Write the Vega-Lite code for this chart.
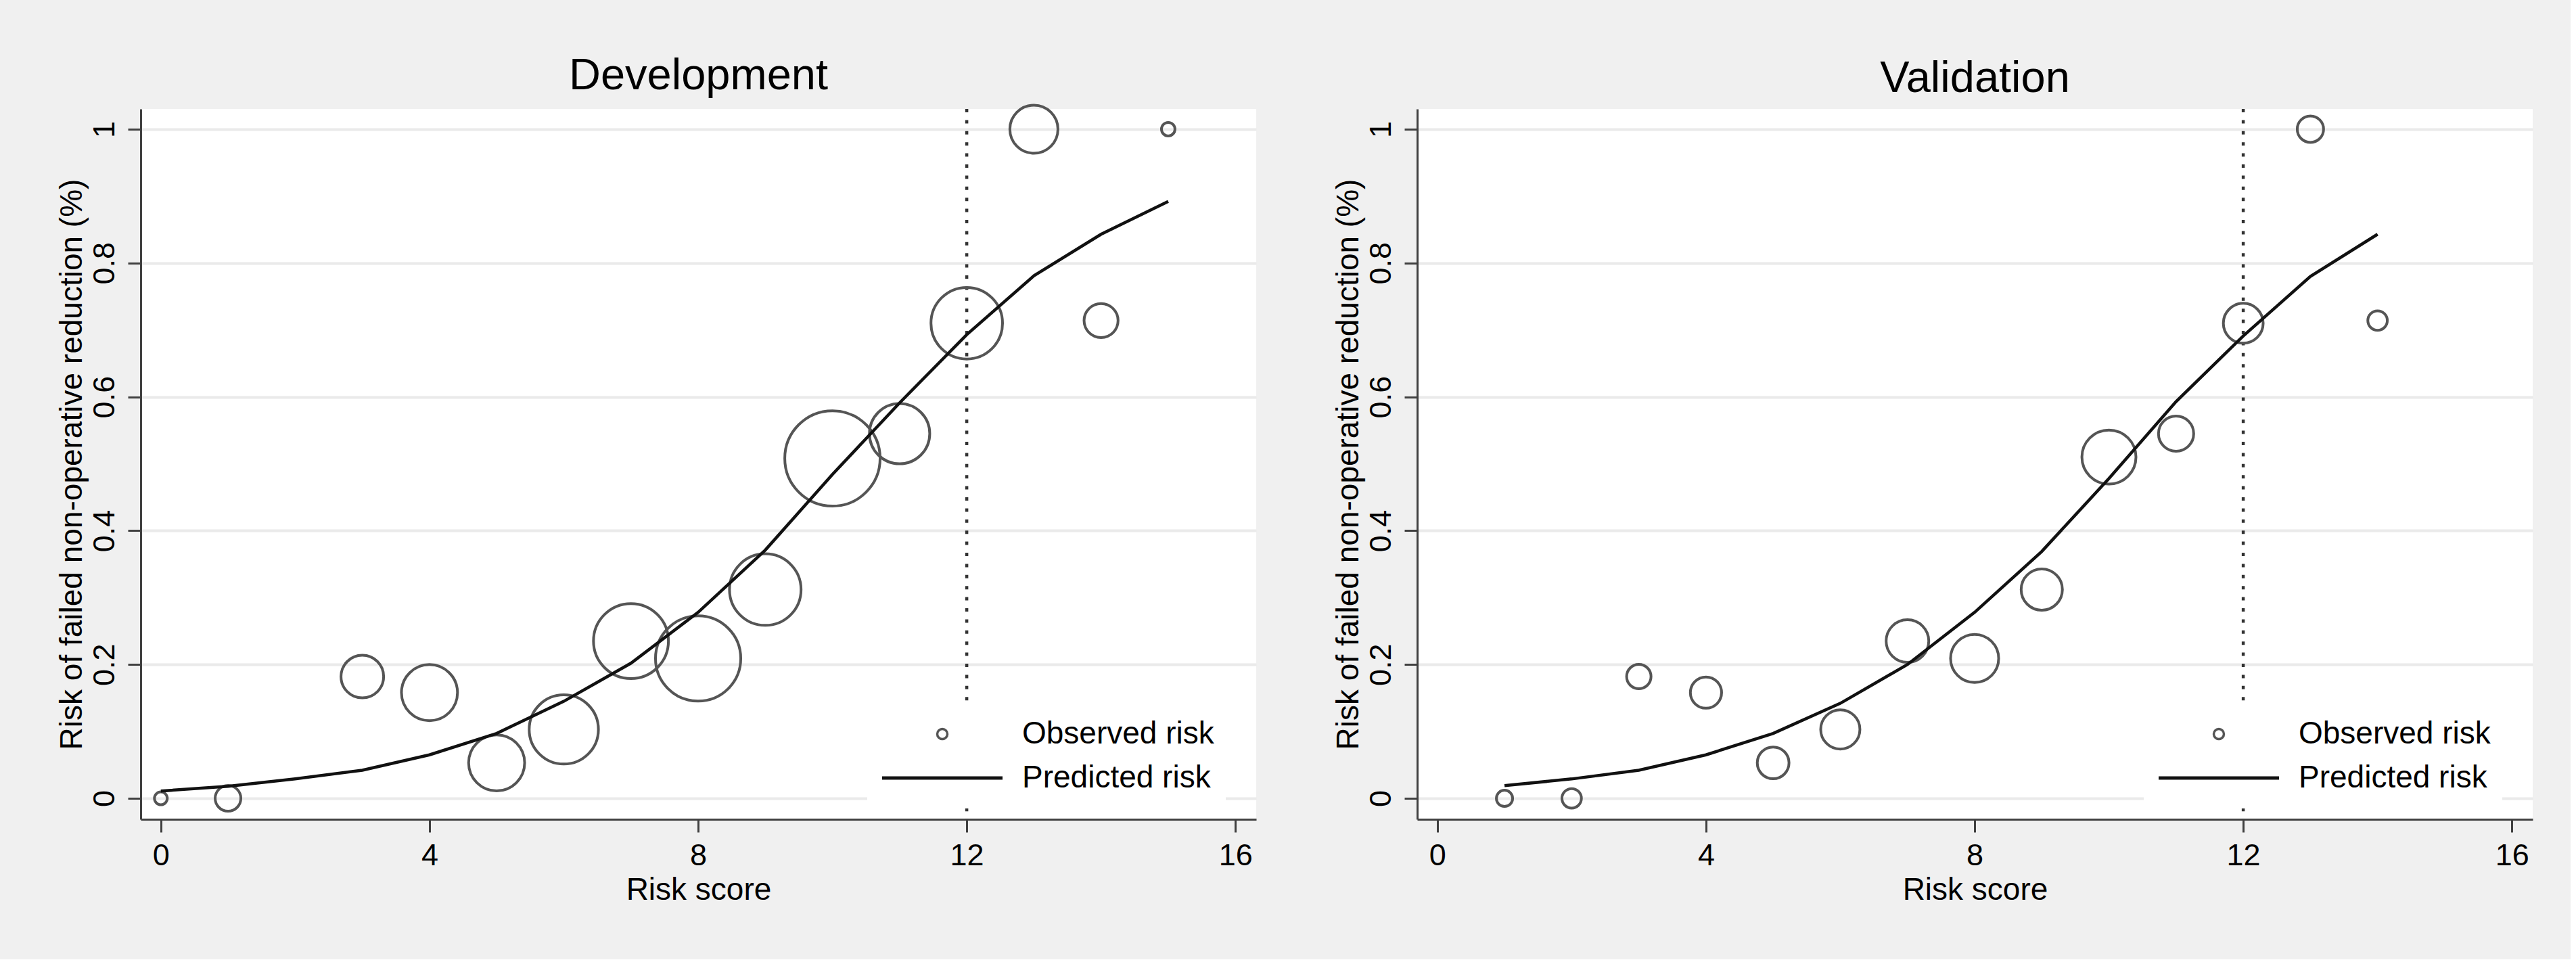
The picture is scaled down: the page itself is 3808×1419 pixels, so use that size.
{
  "$schema": "https://vega.github.io/schema/vega-lite/v6.json",
  "background": "#f0f0f0",
  "padding": {"left": 82, "top": 79, "right": 56, "bottom": 80},
  "datasets": {
    "dev_obs": [
      {"score": 0, "risk": 0.0, "n": 1},
      {"score": 1, "risk": 0.0, "n": 4},
      {"score": 3, "risk": 0.182, "n": 11},
      {"score": 4, "risk": 0.158, "n": 19},
      {"score": 5, "risk": 0.053, "n": 19},
      {"score": 6, "risk": 0.103, "n": 29},
      {"score": 7, "risk": 0.235, "n": 34},
      {"score": 8, "risk": 0.209, "n": 44},
      {"score": 9, "risk": 0.312, "n": 31},
      {"score": 10, "risk": 0.508, "n": 55},
      {"score": 11, "risk": 0.545, "n": 22},
      {"score": 12, "risk": 0.71, "n": 31},
      {"score": 13, "risk": 1.0, "n": 14},
      {"score": 14, "risk": 0.714, "n": 7},
      {"score": 15, "risk": 1.0, "n": 1.1}
    ],
    "dev_pred": [
      {"score": 0, "risk": 0.011},
      {"score": 1, "risk": 0.018},
      {"score": 2, "risk": 0.029},
      {"score": 3, "risk": 0.042},
      {"score": 4, "risk": 0.065},
      {"score": 5, "risk": 0.097},
      {"score": 6, "risk": 0.145},
      {"score": 7, "risk": 0.202},
      {"score": 8, "risk": 0.278},
      {"score": 9, "risk": 0.371},
      {"score": 10, "risk": 0.484},
      {"score": 11, "risk": 0.591},
      {"score": 12, "risk": 0.693},
      {"score": 13, "risk": 0.781},
      {"score": 14, "risk": 0.843},
      {"score": 15, "risk": 0.892}
    ],
    "val_obs": [
      {"score": 1, "risk": 0.0, "n": 1.6},
      {"score": 2, "risk": 0.0, "n": 2.3},
      {"score": 3, "risk": 0.182, "n": 3.6},
      {"score": 4, "risk": 0.158, "n": 5.9},
      {"score": 5, "risk": 0.053, "n": 6.1},
      {"score": 6, "risk": 0.103, "n": 9.3},
      {"score": 7, "risk": 0.235, "n": 11},
      {"score": 8, "risk": 0.209, "n": 14},
      {"score": 9, "risk": 0.312, "n": 10.3},
      {"score": 10, "risk": 0.51, "n": 17.7},
      {"score": 11, "risk": 0.545, "n": 7.5},
      {"score": 12, "risk": 0.71, "n": 9.6},
      {"score": 13, "risk": 1.0, "n": 4.2},
      {"score": 14, "risk": 0.714, "n": 2.3}
    ],
    "val_pred": [
      {"score": 1, "risk": 0.019},
      {"score": 2, "risk": 0.029},
      {"score": 3, "risk": 0.042},
      {"score": 4, "risk": 0.065},
      {"score": 5, "risk": 0.097},
      {"score": 6, "risk": 0.142},
      {"score": 7, "risk": 0.2},
      {"score": 8, "risk": 0.278},
      {"score": 9, "risk": 0.369},
      {"score": 10, "risk": 0.478},
      {"score": 11, "risk": 0.593},
      {"score": 12, "risk": 0.691},
      {"score": 13, "risk": 0.78},
      {"score": 14, "risk": 0.843}
    ],
    "cut": [{"score": 12}]
  },
  "hconcat": [
    {
      "title": {"text": "Development", "offset": 1.5},
      "width": 1649,
      "height": 1050,
      "layer": [
        {
          "data": {"name": "cut"},
          "mark": {"type": "rule", "color": "#333333", "strokeWidth": 4.5, "strokeDash": [5, 11.4]},
          "encoding": {
            "x": {"field": "score", "type": "quantitative", "scale": {"domain": [-0.3, 16.31], "nice": false, "zero": false}}
          }
        },
        {
          "data": {"name": "dev_obs"},
          "mark": {"type": "point", "filled": false, "stroke": "#555555", "strokeWidth": 4, "opacity": 1},
          "encoding": {
            "x": {"field": "score", "type": "quantitative", "scale": {"domain": [-0.3, 16.31], "nice": false, "zero": false},
              "axis": {"values": [0, 4, 8, 12, 16], "format": "~g", "grid": false, "labelPadding": 12, "titlePadding": 6, "title": "Risk score"}},
            "y": {"field": "risk", "type": "quantitative", "scale": {"domain": [-0.0313, 1.0303], "nice": false, "zero": false},
              "axis": {"values": [0, 0.2, 0.4, 0.6, 0.8, 1], "format": "~g", "grid": true, "labelAngle": 270, "labelAlign": "center", "labelBaseline": "alphabetic", "labelPadding": 21, "titlePadding": 2, "title": "Risk of failed non-operative reduction (%)"}},
            "size": {"field": "n", "type": "quantitative", "scale": {"type": "linear", "domain": [0, 100], "range": [0, 36100]}, "legend": null},
            "shape": {"datum": "Observed risk", "type": "nominal",
              "scale": {"domain": ["Observed risk"], "range": ["circle"]},
              "legend": {"title": null, "orient": "none", "legendX": 1076, "legendY": 879, "fillColor": "white", "padding": 22,
                "labelFontSize": 46, "labelColor": "black", "labelLimit": 600,
                "symbolSize": 225, "symbolStrokeWidth": 3.5, "symbolStrokeColor": "#555555", "symbolFillColor": "transparent",
                "symbolOffset": 64, "labelOffset": 95}}
          }
        },
        {
          "data": {"name": "dev_pred"},
          "mark": {"type": "line", "strokeWidth": 4.5},
          "encoding": {
            "x": {"field": "score", "type": "quantitative"},
            "y": {"field": "risk", "type": "quantitative"},
            "color": {"datum": "Predicted risk", "type": "nominal",
              "scale": {"domain": ["Predicted risk"], "range": ["#111111"]},
              "legend": {"title": null, "orient": "none", "legendX": 1074, "legendY": 942, "fillColor": "white", "padding": 22,
                "labelFontSize": 46, "labelColor": "black", "labelLimit": 600,
                "symbolType": "M-4,0H4", "symbolSize": 1980, "symbolStrokeWidth": 5, "symbolStrokeColor": "#111111", "symbolFillColor": "transparent",
                "symbolOffset": 64, "labelOffset": 93}}
          }
        }
      ]
    },
    {
      "title": {"text": "Validation", "offset": 9},
      "width": 1649,
      "height": 1050,
      "layer": [
        {
          "data": {"name": "cut"},
          "mark": {"type": "rule", "color": "#333333", "strokeWidth": 4.5, "strokeDash": [5, 11.4]},
          "encoding": {
            "x": {"field": "score", "type": "quantitative", "scale": {"domain": [-0.3, 16.31], "nice": false, "zero": false}}
          }
        },
        {
          "data": {"name": "val_obs"},
          "mark": {"type": "point", "filled": false, "stroke": "#555555", "strokeWidth": 4, "opacity": 1},
          "encoding": {
            "x": {"field": "score", "type": "quantitative", "scale": {"domain": [-0.3, 16.31], "nice": false, "zero": false},
              "axis": {"values": [0, 4, 8, 12, 16], "format": "~g", "grid": false, "labelPadding": 12, "titlePadding": 6, "title": "Risk score"}},
            "y": {"field": "risk", "type": "quantitative", "scale": {"domain": [-0.0313, 1.0303], "nice": false, "zero": false},
              "axis": {"values": [0, 0.2, 0.4, 0.6, 0.8, 1], "format": "~g", "grid": true, "labelAngle": 270, "labelAlign": "center", "labelBaseline": "alphabetic", "labelPadding": 21, "titlePadding": 2, "title": "Risk of failed non-operative reduction (%)"}},
            "size": {"field": "n", "type": "quantitative", "scale": {"type": "linear", "domain": [0, 100], "range": [0, 36100]}, "legend": null},
            "shape": {"datum": "Observed risk", "type": "nominal",
              "scale": {"domain": ["Observed risk"], "range": ["circle"]},
              "legend": {"title": null, "orient": "none", "legendX": 1076, "legendY": 879, "fillColor": "white", "padding": 22,
                "labelFontSize": 46, "labelColor": "black", "labelLimit": 600,
                "symbolSize": 225, "symbolStrokeWidth": 3.5, "symbolStrokeColor": "#555555", "symbolFillColor": "transparent",
                "symbolOffset": 64, "labelOffset": 95}}
          }
        },
        {
          "data": {"name": "val_pred"},
          "mark": {"type": "line", "strokeWidth": 4.5},
          "encoding": {
            "x": {"field": "score", "type": "quantitative"},
            "y": {"field": "risk", "type": "quantitative"},
            "color": {"datum": "Predicted risk", "type": "nominal",
              "scale": {"domain": ["Predicted risk"], "range": ["#111111"]},
              "legend": {"title": null, "orient": "none", "legendX": 1074, "legendY": 942, "fillColor": "white", "padding": 22,
                "labelFontSize": 46, "labelColor": "black", "labelLimit": 600,
                "symbolType": "M-4,0H4", "symbolSize": 1980, "symbolStrokeWidth": 5, "symbolStrokeColor": "#111111", "symbolFillColor": "transparent",
                "symbolOffset": 64, "labelOffset": 93}}
          }
        }
      ]
    }
  ],
  "spacing": 112,
  "resolve": {
    "scale": {"shape": "independent", "size": "independent", "color": "independent"},
    "legend": {"shape": "independent", "color": "independent", "size": "independent"}
  },
  "config": {
    "font": "Liberation Sans",
    "view": {"fill": "white", "stroke": null},
    "axis": {
      "domainColor": "#404040", "domainWidth": 3,
      "tickColor": "#404040", "tickWidth": 3, "tickSize": 19,
      "labelFont": "Liberation Sans", "labelFontSize": 45, "labelColor": "black",
      "titleFont": "Liberation Sans", "titleFontSize": 46, "titleColor": "black", "titleFontWeight": "normal",
      "gridColor": "#eaeaea", "gridWidth": 4
    },
    "title": {"fontSize": 65, "fontWeight": "normal", "color": "black", "frame": "group", "font": "Liberation Sans"},
    "legend": {"labelFont": "Liberation Sans"}
  }
}
